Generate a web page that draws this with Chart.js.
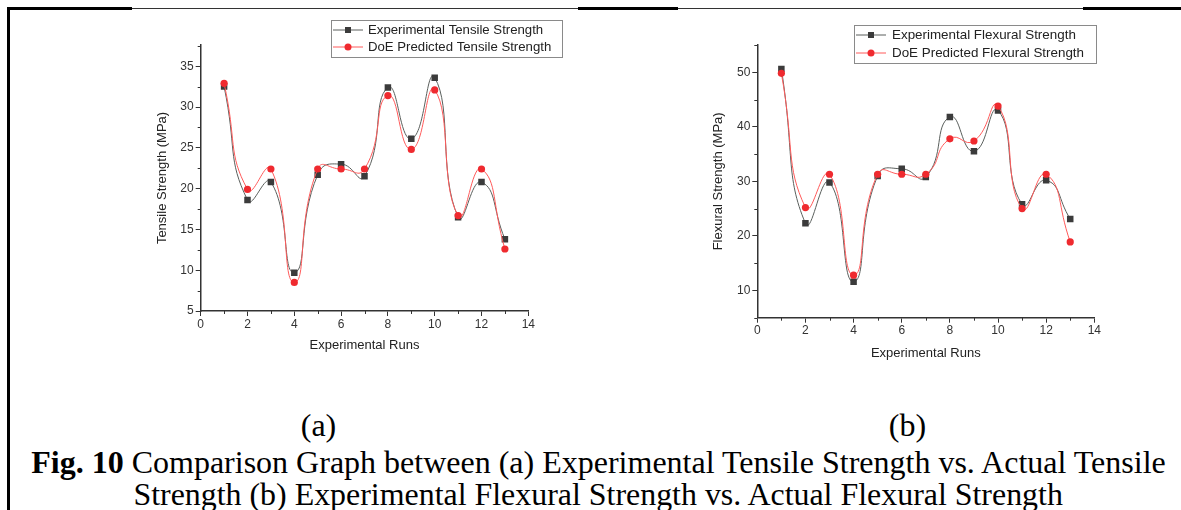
<!DOCTYPE html>
<html>
<head>
<meta charset="utf-8">
<script src="https://cdn.jsdelivr.net/npm/chart.js@4.4.1/dist/chart.umd.min.js"></script>
<style>
  html, body { margin: 0; padding: 0; background: #fff; }
  #page { position: relative; width: 1181px; height: 510px; overflow: hidden; background: #fff; }
  .rule { position: absolute; background: #000; }
  .wrap { position: absolute; }
  .cap {
    position: absolute; left: 0; width: 1181px; text-align: center; white-space: nowrap;
    font-family: "Liberation Serif", "Times New Roman", serif; color: #000; font-size: 32px; line-height: 32px;
  }
  .cap span.in { display: inline-block; transform-origin: center; }
</style>
</head>
<body>
<div id="page">
  <div class="rule" style="left:8px;top:7px;width:124px;height:3px"></div>
  <div class="rule" style="left:132px;top:8px;width:446px;height:1px;background:#333"></div>
  <div class="rule" style="left:578px;top:7px;width:100px;height:3px"></div>
  <div class="rule" style="left:678px;top:8px;width:405px;height:1px;background:#333"></div>
  <div class="rule" style="left:1083px;top:7px;width:98px;height:3px"></div>
  <div class="rule" style="left:7px;top:7px;width:3px;height:503px"></div>

  <div class="wrap" style="left:150px;top:10px;width:420px;height:350px"><canvas id="chartA"></canvas></div>
  <div class="wrap" style="left:700px;top:10px;width:420px;height:360px"><canvas id="chartB"></canvas></div>

  <div class="cap" style="top:409px;left:-272px"><span class="in">(a)</span></div>
  <div class="cap" style="top:409px;left:317px"><span class="in">(b)</span></div>
  <div class="cap" style="top:446px;left:8px"><span class="in" style="transform:scaleX(1.0)"><b>Fig. 10</b> Comparison Graph between (a) Experimental Tensile Strength vs. Actual Tensile</span></div>
  <div class="cap" style="top:478px;left:8px"><span class="in" style="transform:scaleX(0.997)">Strength (b) Experimental Flexural Strength vs. Actual Flexural Strength</span></div>
</div>

<script>
/* ── Data ───────────────────────────────────────────────────────── */
const runs = [1, 2, 3, 4, 5, 6, 7, 8, 9, 10, 11, 12, 13];

const tensileExp  = [32.5, 18.6, 20.8, 9.7, 21.7, 23.0, 21.5, 32.4, 26.1, 33.6, 16.5, 20.8, 13.8];
const tensilePred = [32.9, 19.9, 22.4, 8.5, 22.4, 22.4, 22.4, 31.4, 24.8, 32.1, 16.7, 22.4, 12.6];

const flexExp  = [50.6, 22.3, 29.8, 11.6, 31.0, 32.3, 30.8, 41.8, 35.5, 43.0, 25.8, 30.2, 23.1];
const flexPred = [49.8, 25.2, 31.3, 12.8, 31.3, 31.3, 31.3, 37.8, 37.4, 43.8, 25.0, 31.3, 18.9];

const xTicks      = [0, 2, 4, 6, 8, 10, 12, 14];
const xMinorTicks = [1, 3, 5, 7, 9, 11, 13];
const yTicksA      = [5, 10, 15, 20, 25, 30, 35];
const yMinorTicksA = [7.5, 12.5, 17.5, 22.5, 27.5, 32.5, 37.5];
const yTicksB      = [10, 20, 30, 40, 50];
const yMinorTicksB = [5, 15, 25, 35, 45, 55];

/* ── Shared styling ─────────────────────────────────────────────── */
const FONT = '"Liberation Sans", Arial, sans-serif';
const AXIS = '#333';
const BLACK_MARK = '#3b3b3b';
const RED_MARK = '#ef2a2f';

function series(label, data, kind) {
  const black = kind === 'exp';
  return {
    label,
    data: data.map((y, i) => ({ x: runs[i], y })),
    borderColor: black ? '#5a5f5c' : '#ff5a5a',
    borderWidth: 1,
    tension: 0.55,
    pointStyle: black ? 'rect' : 'circle',
    pointRadius: black ? 4.6 : 3.6,
    pointBackgroundColor: black ? BLACK_MARK : RED_MARK,
    pointBorderColor: black ? BLACK_MARK : RED_MARK,
    pointBorderWidth: 0,
    order: black ? 2 : 1,
  };
}

/* Minor ticks (Origin style) + legend box, drawn on top */
const originExtras = {
  id: 'originExtras',
  afterDraw(chart, args, opts) {
    const { ctx, chartArea } = chart;
    const xs = chart.scales.x, ys = chart.scales.y;
    ctx.save();
    ctx.strokeStyle = AXIS;
    ctx.lineWidth = 1;
    ctx.beginPath();
    opts.xMinor.forEach(v => {
      const px = Math.round(xs.getPixelForValue(v)) + 0.5;
      ctx.moveTo(px, chartArea.bottom); ctx.lineTo(px, chartArea.bottom + 3);
    });
    opts.yMinor.forEach(v => {
      const py = Math.round(ys.getPixelForValue(v)) + 0.5;
      ctx.moveTo(chartArea.left, py); ctx.lineTo(chartArea.left - 3, py);
    });
    ctx.stroke();

    // legend
    const L = opts.legend;
    ctx.fillStyle = '#fff';
    ctx.fillRect(L.x, L.y, L.w, L.h);
    ctx.strokeStyle = '#8a8a8a';
    ctx.strokeRect(L.x + 0.5, L.y + 0.5, L.w, L.h);
    ctx.font = L.font + 'px ' + FONT;
    ctx.textBaseline = 'middle';
    chart.data.datasets.forEach((ds, i) => {
      const cy = L.y + L.rowTop + i * L.rowGap;
      ctx.strokeStyle = ds.borderColor;
      ctx.beginPath();
      ctx.moveTo(L.x + 2, cy); ctx.lineTo(L.x + 32, cy);
      ctx.stroke();
      ctx.fillStyle = ds.pointBackgroundColor;
      if (ds.pointStyle === 'rect') {
        ctx.fillRect(L.x + 14, cy - 3, 6, 6);
      } else {
        ctx.beginPath(); ctx.arc(L.x + 17, cy, 3.5, 0, Math.PI * 2); ctx.fill();
      }
      ctx.fillStyle = '#222';
      ctx.fillText(ds.label, L.x + L.textX, cy);
    });
    ctx.restore();
  }
};

function buildChart(id, cfg) {
  return new Chart(document.getElementById(id).getContext('2d'), {
    type: 'line',
    data: { datasets: cfg.datasets },
    plugins: [originExtras],
    options: {
      responsive: true, maintainAspectRatio: false, animation: false,
      layout: { padding: { top: cfg.padTop, right: cfg.padRight, left: 0, bottom: 0 } },
      plugins: {
        legend: { display: false },
        tooltip: { enabled: false },
        originExtras: { xMinor: xMinorTicks, yMinor: cfg.yMinor, legend: cfg.legend },
      },
      scales: {
        x: {
          type: 'linear', min: 0, max: 14,
          afterBuildTicks: s => { s.ticks = xTicks.map(v => ({ value: v })); },
          afterFit: s => { s.height = cfg.xHeight; },
          ticks: { color: AXIS, font: { family: FONT, size: 12 }, padding: 1, maxRotation: 0 },
          grid: { drawOnChartArea: false, tickLength: 5, tickColor: AXIS, tickWidth: 1 },
          border: { color: AXIS, width: 1.5 },
          title: { display: true, text: 'Experimental Runs', color: '#222', font: { family: FONT, size: 13 }, padding: { top: 0, bottom: cfg.xTitlePad } },
        },
        y: {
          type: 'linear', min: cfg.yMin, max: cfg.yMax,
          afterBuildTicks: s => { s.ticks = cfg.yTicks.map(v => ({ value: v })); },
          afterFit: s => { s.width = cfg.yWidth; },
          ticks: { color: AXIS, font: { family: FONT, size: 12 }, padding: 2 },
          grid: { drawOnChartArea: false, tickLength: 5, tickColor: AXIS, tickWidth: 1 },
          border: { color: AXIS, width: 1.5 },
          title: { display: true, text: cfg.yTitle, color: '#222', font: { family: FONT, size: 13 }, padding: { top: cfg.yTitlePad, bottom: 0 } },
        }
      }
    }
  });
}

/* ── (a) Tensile ────────────────────────────────────────────────── */
buildChart('chartA', {
  datasets: [
    series('Experimental Tensile Strength', tensileExp, 'exp'),
    series('DoE Predicted Tensile Strength', tensilePred, 'pred'),
  ],
  yMin: 5, yMax: 37.6, yTicks: yTicksA, yMinor: yMinorTicksA,
  yTitle: 'Tensile Strength (MPa)',
  padTop: 35, padRight: 41.7, yWidth: 50.7, xHeight: 49,
  xTitlePad: 7, yTitlePad: 4.7,
  legend: { x: 181, y: 10, w: 231, h: 37, rowTop: 10, rowGap: 17, textX: 37, font: 13.2 },
});

/* ── (b) Flexural ───────────────────────────────────────────────── */
buildChart('chartB', {
  datasets: [
    series('Experimental Flexural Strength', flexExp, 'exp'),
    series('DoE Predicted Flexural Strength', flexPred, 'pred'),
  ],
  yMin: 5, yMax: 55, yTicks: yTicksB, yMinor: yMinorTicksB,
  yTitle: 'Flexural Strength (MPa)',
  padTop: 35, padRight: 25.7, yWidth: 57.3, xHeight: 52.3,
  xTitlePad: 9.2, yTitlePad: 10.2,
  legend: { x: 154, y: 15, w: 242, h: 38, rowTop: 10, rowGap: 18, textX: 38, font: 13.4 },
});
</script>
</body>
</html>
